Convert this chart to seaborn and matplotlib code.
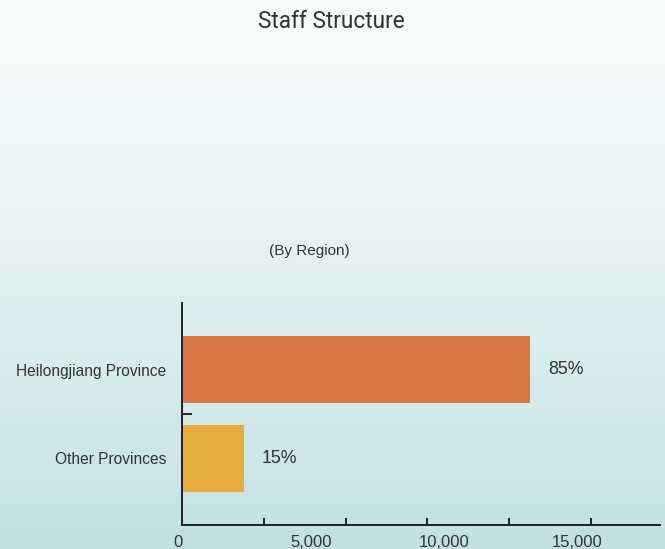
import numpy as np
import pandas as pd
import matplotlib
matplotlib.use("Agg")
import matplotlib.pyplot as plt
import matplotlib.ticker as mticker
import matplotlib.transforms as mtrans
import seaborn as sns

title = "Staff Structure"
subtitle = "(By Region)"
regions = ["Heilongjiang Province", "Other Provinces"]
staff = [13100, 2330]
shares = ["85%", "15%"]
bar_colors = ["#D87744", "#E8AC3E"]
xtick_values = [0, 5000, 10000, 15000]
xtick_labels = ["0", "5,000", "10,000", "15,000"]
xtick_marks = [3080, 6165, 9210, 12290, 15375]

sns.set_theme(style="white")
plt.rcParams["font.family"] = ["Liberation Sans", "DejaVu Sans"]

fig = plt.figure(figsize=(6.65, 5.49), dpi=100)

# gradient background
bg = fig.add_axes([0, 0, 1, 1], zorder=-10)
top = np.array([0.975, 0.988, 0.99])
bot = np.array([0.76, 0.88, 0.89])
t = np.linspace(0, 1, 256)[:, None]
t = t ** 1.3
grad = top[None, :] * (1 - t) + bot[None, :] * t
bg.imshow(np.repeat(grad[:, None, :], 2, axis=1), aspect="auto", extent=[0, 1, 0, 1], origin="upper")
bg.set_axis_off()

ax = fig.add_axes([182 / 665, 1 - 525 / 549, (660 - 182) / 665, (525 - 303) / 549])
ax.patch.set_alpha(0)

df = pd.DataFrame({"region": regions, "staff": staff})
sns.barplot(data=df, x="staff", y="region", hue="region", palette=bar_colors,
            orient="h", width=0.75, legend=False, ax=ax, saturation=1,
            linewidth=0, edgecolor="none")

ax.set_xlim(0, 17970)
ax.set_ylim(1.75, -0.75)
ax.set_xlabel("")
ax.set_ylabel("")

for spine in ["top", "right"]:
    ax.spines[spine].set_visible(False)
for spine in ["left", "bottom"]:
    ax.spines[spine].set_color("#222222")
    ax.spines[spine].set_linewidth(1.4)

ax.set_xticks(xtick_values)
ax.set_xticklabels(xtick_labels, fontsize=12, color="#333333")
ax.xaxis.set_minor_locator(mticker.FixedLocator(xtick_marks))
ax.tick_params(axis="x", which="major", length=0, pad=7)
ax.tick_params(axis="x", which="minor", bottom=True, length=5, width=1.4, color="#222222", direction="in")

ax.set_yticks([0, 1])
ax.set_yticklabels(regions, fontsize=11.2, color="#333333")
ax.yaxis.set_minor_locator(mticker.FixedLocator([0.5]))
ax.tick_params(axis="y", which="major", length=0, pad=11)
ax.tick_params(axis="y", which="minor", left=True, length=7, width=1.4, color="#222222", direction="in")

shift = mtrans.ScaledTranslation(-4 / 100, 0, fig.dpi_scale_trans)
for tick in ax.xaxis.get_major_ticks():
    tick.label1.set_transform(tick.label1.get_transform() + shift)

for i, (v, s) in enumerate(zip(staff, shares)):
    ax.annotate(s, xy=(v, i), xytext=(13, 0), textcoords="offset points",
                va="center", ha="left", fontsize=12.8, color="#333333")

fig.text(331 / 665, 1 - 22 / 549, title, ha="center", va="center",
         fontsize=16.3, color="#333333",
         family=["Roboto", "DejaVu Sans"])
fig.text(309 / 665, 1 - 251 / 549, subtitle, ha="center", va="center",
         fontsize=11, color="#333333")

fig.savefig("out.png", dpi=100)
